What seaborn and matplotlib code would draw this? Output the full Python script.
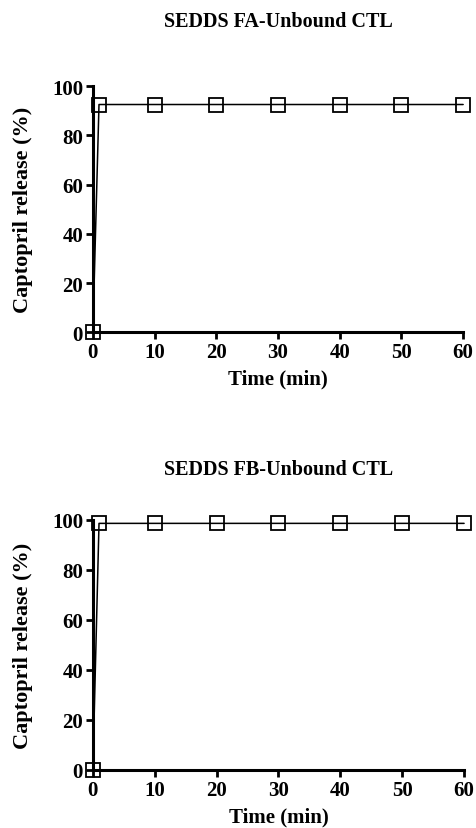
import pandas as pd
import matplotlib
matplotlib.use('Agg')
import matplotlib.pyplot as plt
import seaborn as sns

# data
time_min = [0, 1, 10, 20, 30, 40, 50, 60]
release_fa = [0, 92.5, 92.5, 92.5, 92.5, 92.5, 92.5, 92.5]
release_fb = [0, 98.5, 98.5, 98.5, 98.5, 98.5, 98.5, 98.5]
titles = ['SEDDS FA-Unbound CTL', 'SEDDS FB-Unbound CTL']
xticks = [0, 10, 20, 30, 40, 50, 60]
yticks = [0, 20, 40, 60, 80, 100]

sns.set_style('ticks', {'axes.edgecolor': 'black', 'text.color': 'black',
                        'xtick.color': 'black', 'ytick.color': 'black',
                        'axes.labelcolor': 'black'})
plt.rcParams['font.family'] = ['Liberation Serif', 'DejaVu Serif']
plt.rcParams['font.weight'] = 'bold'

fig = plt.figure(figsize=(4.76, 8.29), dpi=100)
positions = [[0.195, 0.598, 0.778, 0.297], [0.195, 0.070, 0.780, 0.302]]
title_pads = [43, 33]

for pos, title, vals, tpad in zip(positions, titles, [release_fa, release_fb], title_pads):
    ax = fig.add_axes(pos)
    df = pd.DataFrame({'Time': time_min, 'Release': vals})
    sns.lineplot(data=df, x='Time', y='Release', ax=ax, color='black', linewidth=1.1,
                 marker='s', markersize=10, markerfacecolor='none',
                 markeredgecolor='black', markeredgewidth=1.3, clip_on=False)
    ax.set_xlim(0, 60)
    ax.set_ylim(0, 100)
    ax.set_xticks(xticks)
    ax.set_yticks(yticks)
    ax.tick_params(labelsize=15, width=2, length=5, pad=2, colors='black')
    for lab in ax.get_xticklabels() + ax.get_yticklabels():
        lab.set_fontweight('bold')
    for sp in ['left', 'bottom']:
        ax.spines[sp].set_linewidth(2.2)
        ax.spines[sp].set_color('black')
    sns.despine(ax=ax)
    ax.set_xlabel('Time (min)', fontsize=15, fontweight='bold', labelpad=5, color='black')
    ax.set_ylabel('Captopril release (%)', fontsize=16, fontweight='bold', labelpad=14,
                  color='black')
    ax.set_title(title, fontsize=14.5, fontweight='bold', pad=tpad, color='black')

fig.savefig('out.png', dpi=100)
